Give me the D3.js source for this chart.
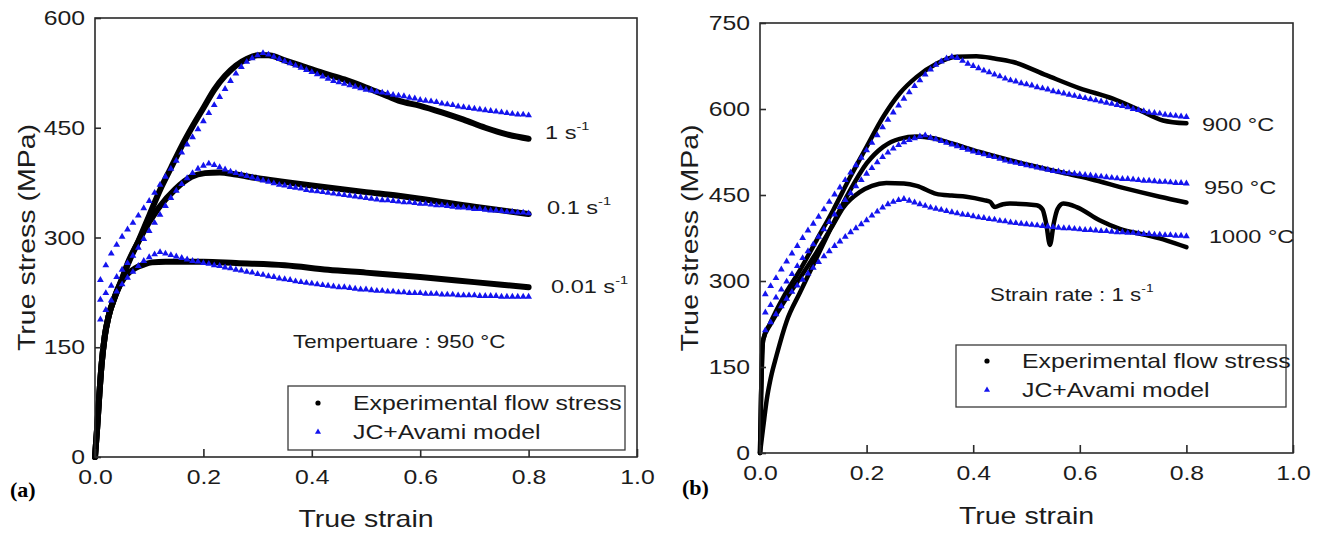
<!DOCTYPE html>
<html>
<head>
<meta charset="utf-8">
<script src="https://cdn.jsdelivr.net/npm/d3@7"></script>
<style>
  body { margin: 0; background: #fff; }
  svg { display: block; }
  text { font-family: "Liberation Sans", Arial, sans-serif; fill: #1c1c1c; }
  text.tag { font-family: "Liberation Serif", "Times New Roman", serif; font-weight: bold; fill: #000; }
</style>
</head>
<body>
<svg id="chart" width="1324" height="535"></svg>
<script>
// ---------- data ----------
// strain values at which the JC+Avami model is evaluated
const modelStrain = [
  0.01,0.02,0.03,0.04,0.05,0.06,0.07,0.08,0.09,0.10,
  0.11,0.12,0.13,0.14,0.15,0.16,0.17,0.18,0.19,0.20,
  0.21,0.22,0.23,0.24,0.25,0.26,0.27,0.28,0.29,0.30,
  0.31,0.32,0.33,0.34,0.35,0.36,0.37,0.38,0.39,0.40,
  0.41,0.42,0.43,0.44,0.45,0.46,0.47,0.48,0.49,0.50,
  0.51,0.52,0.53,0.54,0.55,0.56,0.57,0.58,0.59,0.60,
  0.61,0.62,0.63,0.64,0.65,0.66,0.67,0.68,0.69,0.70,
  0.71,0.72,0.73,0.74,0.75,0.76,0.77,0.78,0.79,0.80
];

// (a) 950 °C, model stress (MPa) per strain rate
const modelRate1 = [
  242,262,278,290,301,311,320,330,340,350,
  361,372,383,394,405,416,427,437,448,459,
  470,481,492,503,514,524,533,540,545,549,
  552,550,547,544,541,538,535,532,529,526,
  523,520,517,514,512,510,508,506,504,502,
  501,499,498,497,495,494,493,491,490,488,
  487,486,485,483,482,481,479,478,477,476,
  475,474,473,472,471,470,469,468,468,467
];
const modelRate01 = [
  215,224,234,246,256,265,275,286,298,309,
  320,331,343,354,364,373,381,388,394,398,
  401,399,396,393,390,388,386,384,382,380,
  378,376,374,372,371,369,368,367,365,364,
  363,362,361,360,359,358,357,356,355,354,
  353,352,351,351,350,349,348,348,347,346,
  346,345,344,344,343,342,341,341,340,339,
  339,338,337,337,336,335,335,334,334,333
];
const modelRate001 = [
  188,201,214,226,236,245,253,261,268,273,
  277,280,278,276,274,272,270,268,267,265,
  264,262,261,259,258,256,255,253,252,250,
  249,247,246,244,243,242,240,239,238,237,
  236,235,234,233,232,232,231,230,229,229,
  228,227,227,226,226,225,225,224,224,224,
  223,223,223,222,222,222,221,221,221,221,
  220,220,220,220,219,219,219,219,219,219
];

// (a) experimental flow stress, [strain, stress]
const expRate1 = [[0,0],[0.004,40],[0.008,85],[0.012,125],[0.018,165],[0.025,192],[0.037,220],[0.049,242],[0.061,266],[0.08,295],[0.1,330],[0.12,365],[0.14,395],[0.16,425],[0.18,452],[0.2,477],[0.22,502],[0.24,521],[0.26,535],[0.28,544],[0.3,549],[0.32,549],[0.35,542],[0.38,535],[0.42,525],[0.46,516],[0.5,505],[0.54,493],[0.56,487],[0.6,480],[0.64,471],[0.68,461],[0.72,450],[0.76,441],[0.8,435]];
const expRate01 = [[0,0],[0.004,40],[0.008,85],[0.012,125],[0.018,165],[0.025,192],[0.037,220],[0.049,241],[0.061,264],[0.086,303],[0.117,340],[0.148,366],[0.178,383],[0.203,388],[0.23,389],[0.26,386],[0.3,381],[0.35,376],[0.4,371],[0.5,362],[0.56,357],[0.6,353],[0.7,342],[0.8,332]];
const expRate001 = [[0,0],[0.004,40],[0.008,85],[0.012,125],[0.018,165],[0.025,192],[0.037,219],[0.049,239],[0.06,250],[0.074,258],[0.09,263],[0.105,266],[0.13,267],[0.2,267],[0.26,265],[0.35,262],[0.43,256],[0.5,252],[0.6,246],[0.7,239],[0.8,232]];

// (b) strain rate 1 s-1, model stress (MPa) per temperature
const model900 = [
  277,291,305,320,334,348,361,375,388,400,
  412,425,438,451,463,476,489,502,515,528,
  541,554,568,581,594,606,618,629,640,650,
  660,669,677,683,688,691,689,684,679,675,
  671,667,664,660,657,653,650,648,645,643,
  641,638,636,634,631,629,627,625,623,621,
  619,617,615,613,611,609,607,605,603,600,
  598,596,594,593,592,590,589,588,587,586
];
const model950 = [
  245,258,271,285,299,312,326,340,352,364,
  377,390,403,416,429,441,453,465,476,487,
  497,507,516,524,531,537,542,546,549,552,
  554,550,547,544,541,538,535,532,529,526,
  523,521,518,516,513,510,508,506,504,502,
  500,498,496,494,492,491,489,488,487,486,
  485,484,483,482,481,480,479,478,478,477,
  476,475,475,474,473,473,472,471,471,470
];
const model1000 = [
  214,228,242,256,269,281,292,302,313,323,
  333,343,352,361,369,377,385,392,399,406,
  414,421,428,434,438,441,443,440,437,434,
  431,428,426,424,422,420,418,416,415,413,
  411,410,408,407,405,404,402,401,400,399,
  398,397,396,395,394,393,392,392,391,390,
  389,389,388,387,387,386,385,385,384,384,
  383,382,382,381,381,380,380,379,379,378
];

// (b) experimental flow stress, [strain, stress]
const exp900 = [[0,0],[0.002,100],[0.004,170],[0.006,197],[0.019,226],[0.044,272],[0.075,319],[0.106,371],[0.137,423],[0.169,481],[0.2,534],[0.231,586],[0.262,627],[0.294,656],[0.331,679],[0.369,691],[0.406,692],[0.44,688],[0.475,682],[0.537,659],[0.6,636],[0.662,618],[0.712,598],[0.756,580],[0.8,575]];
const exp950 = [[0,0],[0.004,30],[0.008,60],[0.0125,92],[0.02,130],[0.031,170],[0.05,230],[0.075,280],[0.106,340],[0.137,400],[0.169,458],[0.2,505],[0.231,534],[0.262,548],[0.294,552],[0.325,549],[0.36,540],[0.412,525],[0.48,508],[0.562,490],[0.62,478],[0.687,461],[0.75,447],[0.8,437]];
const exp1000 = [[0,0],[0.002,100],[0.004,170],[0.006,198],[0.02,225],[0.044,262],[0.075,305],[0.106,350],[0.137,398],[0.156,428],[0.187,455],[0.21,466],[0.237,471],[0.27,470],[0.294,466],[0.331,452],[0.36,449],[0.387,447],[0.42,441],[0.432,438],[0.44,429],[0.456,434],[0.469,435],[0.519,432],[0.53,425],[0.537,400],[0.544,363],[0.551,400],[0.558,425],[0.569,435],[0.594,429],[0.637,406],[0.675,391],[0.725,380],[0.762,371],[0.8,359]];

// axis ticks
const strainTicks = [0, 0.2, 0.4, 0.6, 0.8, 1.0];
const stressTicksA = [0, 150, 300, 450, 600];
const stressTicksB = [0, 150, 300, 450, 600, 750];

// legend entries
const legendLabels = ["Experimental flow stress", "JC+Avami model"];

// ---------- drawing ----------
const svg = d3.select("#chart");
const STRETCH = 1.24;           // glyphs are drawn slightly wide
const BLUE = "#1414ee";

// text with optional superscript tail
function label(g, x, y, main, sup, size, anchor) {
  const t = g.append("text")
    .attr("transform", `translate(${x},${y}) scale(${STRETCH},1)`)
    .attr("font-size", size)
    .attr("text-anchor", anchor || "start")
    .attr("dominant-baseline", "central");
  t.append("tspan").text(main);
  if (sup) t.append("tspan").attr("font-size", size * 0.62).attr("dy", -size * 0.38).text(sup);
  return t;
}

function panel(cfg) {
  const x = d3.scaleLinear().domain([0, 1]).range([cfg.left, cfg.right]);
  const y = d3.scaleLinear().domain([0, cfg.yMax]).range([cfg.bottom, cfg.top]);
  const g = svg.append("g");

  // experimental curves (dense points drawn as a heavy trace)
  const line = d3.line().x(d => x(d[0])).y(d => y(d[1])).curve(d3.curveMonotoneX);
  cfg.exp.forEach(s => {
    g.append("path").datum(s)
      .attr("d", line)
      .attr("fill", "none")
      .attr("stroke", "#000")
      .attr("stroke-width", cfg.expWidth)
      .attr("stroke-linecap", "round")
      .attr("stroke-linejoin", "round");
  });

  // model curves as triangle markers
  const tri = d3.symbol().type(d3.symbolTriangle).size(cfg.triSize);
  cfg.model.forEach(vals => {
    g.append("g").selectAll("path")
      .data(modelStrain.map((e, i) => [e, vals[i]]))
      .join("path")
      .attr("d", tri)
      .attr("transform", d => `translate(${x(d[0])},${y(d[1])})`)
      .attr("fill", BLUE);
  });

  // frame
  g.append("rect")
    .attr("x", cfg.left).attr("y", cfg.top)
    .attr("width", cfg.right - cfg.left).attr("height", cfg.bottom - cfg.top)
    .attr("fill", "none").attr("stroke", "#2a2a2a").attr("stroke-width", 1.6);

  // axes with inward ticks
  const xAxis = g.append("g").attr("transform", `translate(0,${cfg.bottom})`)
    .call(d3.axisBottom(x).tickValues(strainTicks).tickFormat(d3.format(".1f"))
      .tickSizeInner(-8).tickSizeOuter(0).tickPadding(0));
  xAxis.select(".domain").remove();
  xAxis.selectAll(".tick line").attr("stroke", "#2a2a2a").attr("stroke-width", 1.6);
  xAxis.selectAll(".tick text")
    .attr("y", cfg.xLabelDy).attr("dy", null)
    .attr("dominant-baseline", "central")
    .attr("transform", `scale(${STRETCH},1)`)
    .attr("font-size", 20)
    .attr("fill", "#1c1c1c");

  const yAxis = g.append("g").attr("transform", `translate(${cfg.left},0)`)
    .call(d3.axisLeft(y).tickValues(cfg.yTicks).tickFormat(d3.format("d"))
      .tickSizeInner(-6).tickSizeOuter(0).tickPadding(0));
  yAxis.select(".domain").remove();
  yAxis.selectAll(".tick line").attr("stroke", "#2a2a2a").attr("stroke-width", 1.6);
  yAxis.selectAll(".tick text")
    .attr("x", -cfg.yLabelDx / STRETCH).attr("dy", null)
    .attr("dominant-baseline", "central")
    .attr("transform", `scale(${STRETCH},1)`)
    .attr("font-size", 20)
    .attr("fill", "#1c1c1c");

  // axis titles
  label(g, (cfg.left + cfg.right) / 2, cfg.xTitleY, "True strain", null, 23, "middle");
  g.append("text")
    .attr("transform", `translate(${cfg.yTitleX},${(cfg.top + cfg.bottom) / 2}) scale(1,${STRETCH}) rotate(-90)`)
    .attr("font-size", 23).attr("text-anchor", "middle").attr("dominant-baseline", "central")
    .text("True stress (MPa)");

  // panel tag
  g.append("text").attr("class", "tag")
    .attr("x", cfg.tagX).attr("y", cfg.tagY)
    .attr("font-size", 22)
    .text(cfg.tag);

  // curve annotations
  cfg.notes.forEach(n => label(g, n.x, n.y, n.text, n.sup, n.size || 19));

  // legend
  const L = cfg.legend;
  g.append("rect").attr("x", L.x).attr("y", L.y).attr("width", L.w).attr("height", L.h)
    .attr("fill", "#fff").attr("stroke", "#3a3a3a").attr("stroke-width", 1.3);
  g.append("circle").attr("cx", L.mx).attr("cy", L.r1).attr("r", 2.6).attr("fill", "#000");
  g.append("path").attr("d", d3.symbol().type(d3.symbolTriangle).size(16)())
    .attr("transform", `translate(${L.mx},${L.r2})`).attr("fill", BLUE);
  label(g, L.tx, L.r1, legendLabels[0], null, 20);
  label(g, L.tx, L.r2, legendLabels[1], null, 20);
}

panel({
  left: 95, right: 637, top: 18, bottom: 457, yMax: 600, yTicks: stressTicksA,
  exp: [expRate1, expRate01, expRate001], expWidth: 6,
  model: [modelRate1, modelRate01, modelRate001], triSize: 20,
  xLabelDy: 20, yLabelDx: 10, xTitleY: 519, yTitleX: 27,
  tag: "(a)", tagX: 10, tagY: 497,
  notes: [
    { x: 545, y: 133, text: "1 s", sup: "-1" },
    { x: 547, y: 208, text: "0.1 s", sup: "-1" },
    { x: 551, y: 287, text: "0.01 s", sup: "-1" },
    { x: 293, y: 342, text: "Tempertuare : 950 °C", size: 18 }
  ],
  legend: { x: 288, y: 386, w: 337, h: 64, mx: 318, r1: 403, r2: 432, tx: 353 }
});

panel({
  left: 760, right: 1293, top: 23, bottom: 453, yMax: 750, yTicks: stressTicksB,
  exp: [exp900, exp950, exp1000], expWidth: 4.5,
  model: [model900, model950, model1000], triSize: 20,
  xLabelDy: 20, yLabelDx: 10, xTitleY: 516, yTitleX: 690,
  tag: "(b)", tagX: 682, tagY: 495,
  notes: [
    { x: 1202, y: 125, text: "900 °C" },
    { x: 1204, y: 188, text: "950 °C" },
    { x: 1209, y: 237, text: "1000 °C" },
    { x: 990, y: 295, text: "Strain rate : 1 s", sup: "-1", size: 18 }
  ],
  legend: { x: 956, y: 345, w: 330, h: 62, mx: 987, r1: 361, r2: 390, tx: 1022 }
});
</script>
</body>
</html>
